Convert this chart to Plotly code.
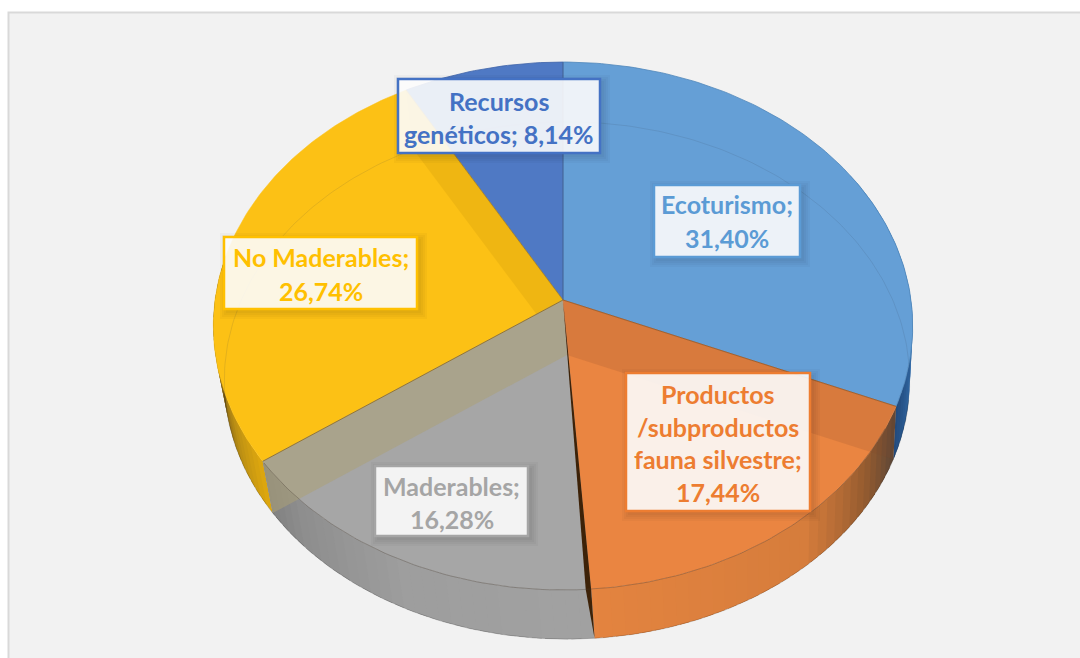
import numpy as np
import plotly.graph_objects as go

categories = ["Ecoturismo", "Productos /subproductos fauna silvestre", "Maderables", "No Maderables", "Recursos genéticos"]
values = [31.40, 17.44, 16.28, 26.74, 8.14]
label_lines = [
    ["Ecoturismo;", "31,40%"],
    ["Productos", "/subproductos", "fauna silvestre;", "17,44%"],
    ["Maderables;", "16,28%"],
    ["No Maderables;", "26,74%"],
    ["Recursos", "genéticos; 8,14%"],
]
top_colors = ["#659fd6", "#ea8541", "#a6a6a6", "#fcc115", "#4f79c4"]
text_colors = ["#5b9bd5", "#ed7d31", "#a5a5a5", "#ffc000", "#4472c4"]
edge_colors = ["#4f86ba", "#b8622c", "#8f8f8f", "#b58a10", "#3f63a8"]
label_boxes = [(654, 185, 800, 257), (626, 373, 810, 511), (375, 466, 528, 536), (224, 237, 417, 309), (398, 79, 600, 153)]
label_rows = [[204, 238], [394, 427, 459, 492], [486, 519], [257, 291], [101, 134]]
wall_stops = [
    [(60, (70, 130, 190)), (90, (80, 140, 200)), (100, (50, 105, 165)), (113, (35, 75, 125))],
    [(113, (90, 70, 55)), (125, (150, 92, 48)), (140, (214, 125, 60)), (176, (228, 132, 64))],
    [(176, (162, 162, 162)), (205, (158, 158, 158)), (225, (142, 142, 142)), (235, (128, 128, 128))],
    [(234, (225, 170, 15)), (245, (190, 145, 20)), (258, (120, 92, 25)), (275, (85, 65, 20))],
    [(330, (60, 90, 150)), (360, (60, 90, 150))],
]

cx, cy, a, b, k = 563.0, 300.0, 348.0, 261.4, 0.0985
lx, ly, s = 567.0, 355.0, 0.98


def top_xy(deg):
    t = np.radians(np.asarray(deg, dtype=float))
    u, v = np.sin(t), np.cos(t)
    d = 1 + k * v
    return cx + a * u / d, cy - b * v / d


def low_xy(deg):
    x, y = top_xy(deg)
    return lx + s * (x - cx), ly + s * (y - cy)


def arc(start, end, step=1.0):
    n = max(2, int(abs(end - start) / step) + 1)
    return np.linspace(start, end, n)


def poly(xs, ys, fill, line=None, width=0, name=""):
    return go.Scatter(
        x=list(xs), y=list(ys), mode="lines", fill="toself", fillcolor=fill,
        line=dict(color=line or "rgba(0,0,0,0)", width=width),
        hoverinfo="name" if name else "skip", name=name, showlegend=False,
    )


def stroke(xs, ys, color, width=1):
    return go.Scatter(x=list(xs), y=list(ys), mode="lines", line=dict(color=color, width=width),
                      hoverinfo="skip", showlegend=False)


def shade(stops, deg):
    ds = [p[0] for p in stops]
    rgb = [np.interp(deg, ds, [p[1][i] for p in stops]) for i in range(3)]
    return "rgb(%d,%d,%d)" % tuple(int(c) for c in rgb)


edges = np.concatenate([[0], np.cumsum(values)]) * 3.6
fig = go.Figure()

# outer walls of the slices, painted first so that the top faces cover them;
# each strip runs over the next one so that no seams show
for i in [0, 3, 1, 2]:
    d0, d1 = edges[i], edges[i + 1]
    if i == 0:
        d0 = 60.0
    if i == 3:
        d1 = 280.0
    for st in np.arange(d0, d1, 2.0):
        en = min(st + 3.5, d1)
        ang = arc(st, en, 1.0)
        tx, ty = top_xy(ang)
        bx, by = low_xy(ang)
        col = shade(wall_stops[i], st + 1.0)
        fig.add_trace(poly(list(tx) + list(bx[::-1]), list(ty) + list(by[::-1]), col))

# front lower edge of the walls
ang = arc(edges[0] + 100, edges[4])
bx, by = low_xy(ang)
fig.add_trace(stroke(bx, by, "rgba(0,0,0,0.18)", 1))


def wedge(i):
    ang = arc(edges[i], edges[i + 1])
    x, y = top_xy(ang)
    return [cx] + list(x) + [cx], [cy] + list(y) + [cy]


def band(i):
    rx, ry = top_xy(edges[i])
    qx, qy = low_xy(edges[i])
    return [cx, float(rx), float(qx), lx, cx], [cy, float(ry), float(qy), ly, cy]


# top faces; the inner radial walls show through the translucent surface
for i in [4, 0]:
    x, y = wedge(i)
    fig.add_trace(poly(x, y, top_colors[i], edge_colors[i], 0.8, categories[i]))

x, y = wedge(3)
fig.add_trace(poly(x, y, top_colors[3], top_colors[3], 0.5, categories[3]))
x, y = band(4)
fig.add_trace(poly(x, y, "rgba(165,120,0,0.14)"))

x, y = wedge(2)
fig.add_trace(poly(x, y, top_colors[2], top_colors[2], 0.5, categories[2]))
x, y = band(3)
fig.add_trace(poly(x, y, "rgba(172,160,118,0.55)"))

x, y = wedge(1)
fig.add_trace(poly(x, y, top_colors[1], top_colors[1], 0.5, categories[1]))
x, y = band(1)
fig.add_trace(poly(x, y, "rgba(130,70,40,0.17)"))

# dark sliver where the orange and grey slices meet
d = edges[2]
p0x, p0y = top_xy(d)
p1x, p1y = top_xy(d + 0.8)
p2x, p2y = low_xy(d)
fig.add_trace(poly([cx, float(p0x), float(p2x), float(p1x), cx],
                   [cy, float(p0y), float(p2y), float(p1y), cy], "#3d2208"))

# seams between the slices
for i, col in [(0, "rgba(70,90,140,0.7)"), (1, "rgba(150,90,40,0.8)"), (3, "rgba(140,105,30,0.8)"), (4, "rgba(120,95,60,0.5)")]:
    rx, ry = top_xy(edges[i])
    fig.add_trace(stroke([cx, float(rx)], [cy, float(ry)], col, 1))

# rims: the near top rim, and the far lower rim seen through the surface
ang = arc(118, 234)
tx, ty = top_xy(ang)
fig.add_trace(stroke(tx, ty, "rgba(70,60,50,0.38)", 1))
ang = arc(258, 465)
qx, qy = low_xy(ang)
fig.add_trace(stroke(qx, qy, "rgba(50,60,70,0.12)", 1))

shapes = [dict(type="rect", layer="below", xref="x", yref="y", x0=8.5, y0=12.5, x1=1085, y1=665,
               fillcolor="#f2f2f2", line=dict(color="#d9d9d9", width=2))]
annotations = []
for i, (x0, y0, x1, y1) in enumerate(label_boxes):
    for g in (7, 5, 3, 1):
        shapes.append(dict(type="rect", layer="above", xref="x", yref="y", x0=x0 + 3 - g, y0=y0 + 3 - g,
                           x1=x1 + 3 + g, y1=y1 + 3 + g, fillcolor="rgba(0,0,0,0.028)", line=dict(width=0)))
    shapes.append(dict(type="rect", layer="above", xref="x", yref="y", x0=x0, y0=y0, x1=x1, y1=y1,
                       fillcolor="rgba(255,255,255,0.89)", line=dict(color=text_colors[i], width=2.5)))
    for line, yy in zip(label_lines[i], label_rows[i]):
        annotations.append(dict(x=(x0 + x1) / 2, y=yy, xref="x", yref="y", text="<b>%s</b>" % line, showarrow=False,
                                xanchor="center", yanchor="middle",
                                font=dict(family="Lato", size=25, color=text_colors[i])))

fig.update_layout(
    width=1080, height=658, margin=dict(l=0, r=0, t=0, b=0), autosize=False,
    paper_bgcolor="#ffffff", plot_bgcolor="rgba(0,0,0,0)", showlegend=False,
    xaxis=dict(range=[0, 1080], visible=False, fixedrange=True),
    yaxis=dict(range=[658, 0], visible=False, fixedrange=True),
    shapes=shapes, annotations=annotations,
)
fig.write_html("out.html", config=dict(displayModeBar=False),
               post_script="document.body.style.margin='0';document.body.style.overflow='hidden';")
